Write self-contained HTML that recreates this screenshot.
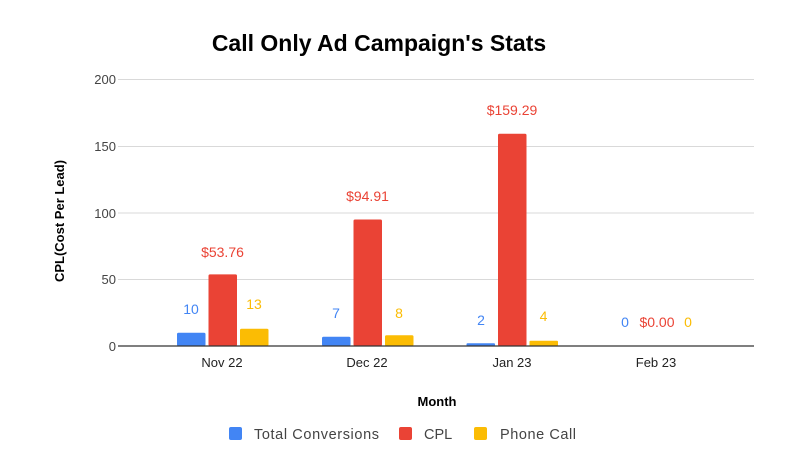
<!DOCTYPE html>
<html><head><meta charset="utf-8"><style>
html,body{margin:0;padding:0;background:#fff;}
svg{display:block;font-family:"Liberation Sans",Arial,sans-serif;}
</style></head><body>
<svg width="799" height="475" viewBox="0 0 799 475" xmlns="http://www.w3.org/2000/svg">
<rect width="799" height="475" fill="#fff"/>
<text x="379" y="51" text-anchor="middle" font-size="23" font-weight="bold" fill="#000">Call Only Ad Campaign's Stats</text>
<g stroke="#d9d9d9" stroke-width="1">
<line x1="118" y1="79.5" x2="754" y2="79.5"/>
<line x1="118" y1="146.5" x2="754" y2="146.5"/>
<line x1="118" y1="213" x2="754" y2="213"/>
<line x1="118" y1="279.5" x2="754" y2="279.5"/>
</g>
<g font-size="13" fill="#444" text-anchor="end">
<text x="116" y="84">200</text>
<text x="116" y="151">150</text>
<text x="116" y="218">100</text>
<text x="116" y="284">50</text>
<text x="116" y="351">0</text>
</g>
<text transform="translate(64,221) rotate(-90)" text-anchor="middle" font-size="13" font-weight="bold" fill="#000">CPL(Cost Per Lead)</text>
<g>
<rect x="177" y="332.7" width="28.5" height="13.3" rx="1.5" fill="#4285f4"/>
<rect x="208.5" y="274.4" width="28.5" height="71.6" rx="1.5" fill="#ea4335"/>
<rect x="240" y="328.7" width="28.5" height="17.3" rx="1.5" fill="#fbbc04"/>
<rect x="322" y="336.7" width="28.5" height="9.3" rx="1.5" fill="#4285f4"/>
<rect x="353.5" y="219.5" width="28.5" height="126.5" rx="1.5" fill="#ea4335"/>
<rect x="385" y="335.3" width="28.5" height="10.7" rx="1.5" fill="#fbbc04"/>
<rect x="466.5" y="343.3" width="28.5" height="2.7" rx="1" fill="#4285f4"/>
<rect x="498" y="133.8" width="28.5" height="212.2" rx="1.5" fill="#ea4335"/>
<rect x="529.5" y="340.7" width="28.5" height="5.3" rx="1" fill="#fbbc04"/>
</g>
<line x1="118" y1="346" x2="754" y2="346" stroke="#333" stroke-width="1.3"/>
<g font-size="14" text-anchor="middle">
<text x="191" y="314" fill="#4285f4">10</text>
<text x="222.5" y="257" fill="#ea4335">$53.76</text>
<text x="254" y="309" fill="#fbbc04">13</text>
<text x="336" y="318" fill="#4285f4">7</text>
<text x="367.5" y="201" fill="#ea4335">$94.91</text>
<text x="399" y="318" fill="#fbbc04">8</text>
<text x="481" y="325" fill="#4285f4">2</text>
<text x="512" y="115" fill="#ea4335">$159.29</text>
<text x="543.5" y="321" fill="#fbbc04">4</text>
<text x="625" y="327" fill="#4285f4">0</text>
<text x="657" y="327" fill="#ea4335">$0.00</text>
<text x="688" y="327" fill="#fbbc04">0</text>
</g>
<g font-size="13" fill="#222" text-anchor="middle">
<text x="222" y="367">Nov 22</text>
<text x="367" y="367">Dec 22</text>
<text x="512" y="367">Jan 23</text>
<text x="656" y="367">Feb 23</text>
</g>
<text x="437" y="406" text-anchor="middle" font-size="13" font-weight="bold" fill="#000">Month</text>
<g font-size="14.5" fill="#444">
<rect x="229" y="427" width="13" height="13" rx="2" fill="#4285f4"/>
<text x="254" y="439" textLength="125">Total Conversions</text>
<rect x="399" y="427" width="13" height="13" rx="2" fill="#ea4335"/>
<text x="424" y="439">CPL</text>
<rect x="474" y="427" width="13" height="13" rx="2" fill="#fbbc04"/>
<text x="500" y="439" textLength="76">Phone Call</text>
</g>
</svg>
</body></html>
